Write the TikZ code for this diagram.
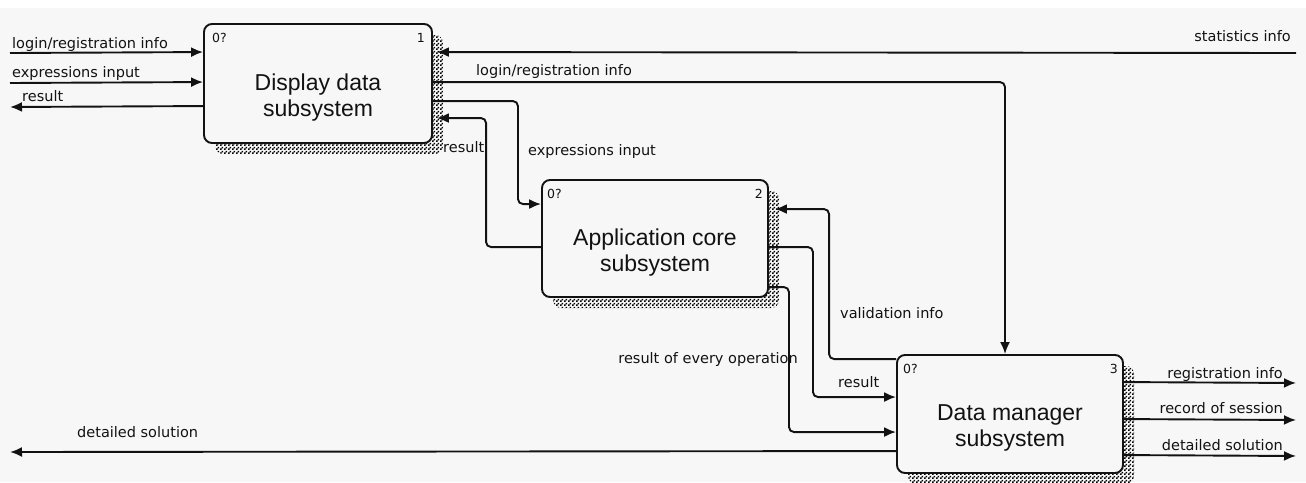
\documentclass[tikz,border=0pt]{standalone}
\usepackage{fontspec}
\setmainfont{DejaVu Sans}
\newfontfamily\titlefont{Liberation Sans}
\usetikzlibrary{arrows.meta,calc,patterns,shadows}
\definecolor{paper}{RGB}{247,247,247}
\definecolor{ink}{RGB}{18,18,18}
% checkerboard used for the box shadows
\pgfdeclarepatternformonly{checks}{\pgfpointorigin}{\pgfpoint{4pt}{4pt}}{\pgfpoint{4pt}{4pt}}{%
  \pgfpathrectangle{\pgfpointorigin}{\pgfpoint{2pt}{2pt}}%
  \pgfpathrectangle{\pgfpoint{2pt}{2pt}}{\pgfpoint{2pt}{2pt}}%
  \pgfusepath{fill}}
\tikzset{
  flow/.style={draw=ink, line width=1.9pt, rounded corners=5pt,
    -{Latex[length=12pt,width=10pt]}},
  lbl/.style={font=\fontsize{14.5}{16}\selectfont, inner sep=0pt, text=ink},
  tag/.style={font=\fontsize{12.5}{14}\selectfont, inner sep=0pt, text=ink},
  proc/.style={draw=ink, line width=1.9pt, fill=paper, rounded corners=8pt,
    inner sep=0pt,
    general shadow={shadow xshift=11pt, shadow yshift=-11pt,
      pattern=checks, pattern color=black}},
  ttl/.style={font=\titlefont\fontsize{23}{26}\selectfont, align=center,
    inner sep=0pt, text=ink},
}
\begin{document}
\begin{tikzpicture}[x=1pt,y=-1pt]
\fill[paper] (0,0) rectangle (1306,482);
\fill[white] (0,0) rectangle (1306,8);
\useasboundingbox (0,0) rectangle (1306,482);

% activity boxes
\node[proc, minimum width=228pt, minimum height=119pt] (b1) at (318,83.5) {};
\node[proc, minimum width=226pt, minimum height=117pt] (b2) at (655,238.5) {};
\node[proc, minimum width=226pt, minimum height=118pt] (b3) at (1010,414) {};

\node[ttl] (t1) at ($(b1.center)+(0,14)$) {Display data\\subsystem};
\node[ttl] (t2) at ($(b2.center)+(0,14)$) {Application core\\subsystem};
\node[ttl] (t3) at ($(b3.center)+(0,14)$) {Data manager\\subsystem};

\node[tag, anchor=base west] (n1) at (212,42) {0?};
\node[tag, anchor=base east] (k1) at (425,42) {1};
\node[tag, anchor=base west] (n2) at (547,198) {0?};
\node[tag, anchor=base east] (k2) at (763,198) {2};
\node[tag, anchor=base west] (n3) at (903,373) {0?};
\node[tag, anchor=base east] (k3) at (1118,373) {3};

% free ends of boundary arrows
\coordinate (inLogin) at (10,53);
\coordinate (inExpr) at (10,83);
\coordinate (outRes) at (10,107);
\coordinate (inStat) at (1296,53);
\coordinate (outSol) at (10,452);
\coordinate (outReg) at (1296,383);
\coordinate (outRec) at (1296,420);
\coordinate (outDet) at (1296,456);

% boundary arrows
\draw[flow] (inLogin) -- ($(b1.north west)+(0,29)$);
\draw[flow] (inExpr) -- ($(b1.north west)+(0,59)$);
\draw[flow] ($(b1.north west)+(0,83)$) -- (outRes);
\draw[flow] (inStat) -- ($(b1.north east)+(4,29)$);
\draw[flow] ($(b3.north west)+(0,97)$) -- (outSol);
\draw[flow] ($(b3.north east)+(0,28)$) -- (outReg);
\draw[flow] ($(b3.north east)+(0,65)$) -- (outRec);
\draw[flow] ($(b3.north east)+(0,101)$) -- (outDet);

% internal arrows
\draw[flow] ($(b1.north east)+(0,59)$) -| ($(b3.north)+(-5,0)$);
\draw[flow] ($(b1.north east)+(0,78)$) -- ++(85,0) |- ($(b2.north west)+(0,25)$);
\draw[flow] ($(b2.north west)+(0,68)$) -- ++(-55,0) |- ($(b1.north east)+(4,95)$);
\draw[flow] ($(b3.north west)+(0,5)$) -- ++(-67,0) |- ($(b2.north east)+(6,30)$);
\draw[flow] ($(b2.north east)+(0,68)$) -- ++(44,0) |- ($(b3.north west)+(0,43)$);
\draw[flow] ($(b2.north east)+(0,108)$) -- ++(20,0) |- ($(b3.north west)+(0,78)$);

% arrow labels
\node[lbl, anchor=base west] (l1) at (12,48) {login/registration info};
\node[lbl, anchor=base west] (l2) at (12,77) {expressions input};
\node[lbl, anchor=base west] (l3) at (22,101) {result};
\node[lbl, anchor=base east] (l4) at (1291,41) {statistics info};
\node[lbl, anchor=base west] (l5) at (476,75) {login/registration info};
\node[lbl, anchor=base west] (l6) at (528,155) {expressions input};
\node[lbl, anchor=base west] (l7) at (443,152) {result};
\node[lbl, anchor=base west] (l8) at (840,318) {validation info};
\node[lbl, anchor=base west] (l9) at (838,387) {result};
\node[lbl, anchor=base east] (l10) at (798,363) {result of every operation};
\node[lbl, anchor=base west] (l11) at (77,437) {detailed solution};
\node[lbl, anchor=base east] (l12) at (1283,378) {registration info};
\node[lbl, anchor=base east] (l13) at (1283,413) {record of session};
\node[lbl, anchor=base east] (l14) at (1283,450) {detailed solution};
\end{tikzpicture}
\end{document}
